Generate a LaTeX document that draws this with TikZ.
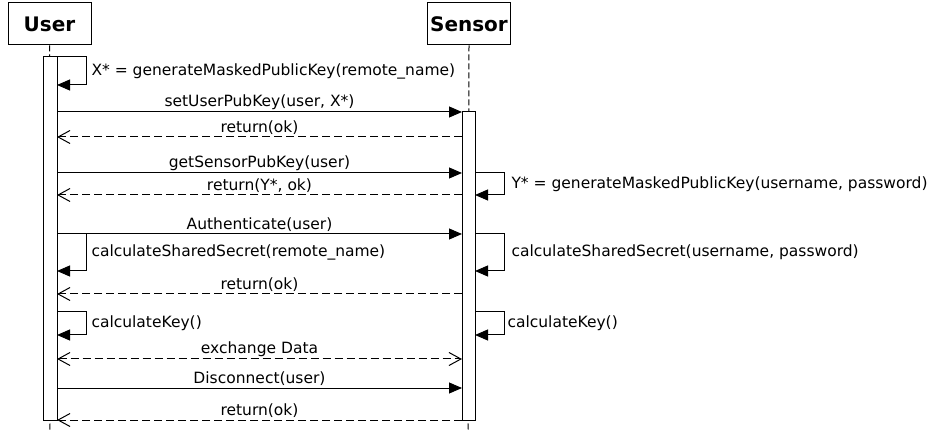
\documentclass[tikz,border=0pt]{standalone}
\usepackage{fontspec}
\setmainfont{DejaVu Sans}
\usetikzlibrary{arrows.meta}

\tikzset{
  actor/.style={draw, line width=1pt, minimum width=83pt, minimum height=42pt, inner sep=0pt,
    font=\bfseries\fontsize{20}{24}\selectfont},
  lifeline/.style={line width=1pt, dash pattern=on 6pt off 3pt},
  activation/.style={draw, line width=1pt, fill=white},
  call/.style={line width=1pt, -{Triangle[length=13pt,width=11pt]}},
  reply/.style={line width=1pt, dash pattern=on 8pt off 4pt, -{Straight Barb[length=12pt,width=13pt]}},
  both/.style={line width=1pt, dash pattern=on 8pt off 4pt, {Straight Barb[length=12pt,width=13pt]}-{Straight Barb[length=12pt,width=13pt]}},
  lbl/.style={above, inner sep=2pt},
  selflbl/.style={right, inner sep=5pt}
}

\begin{document}
\begin{tikzpicture}[x=1pt, y=-1pt, font=\fontsize{15.5}{18}\selectfont]
  \useasboundingbox (0,0) rectangle (934,435);

  % objects
  \node[actor] (user) at (49.5,24) {User};
  \node[actor] (sensor) at (469,24) {Sensor};
  \coordinate (userend) at (50,432);
  \coordinate (sensorend) at (468,432);
  \draw[lifeline] (user.south) -- (userend);
  \draw[lifeline] (sensor.south) -- (sensorend);

  % activation bars
  \draw[activation] (43,57) rectangle (57,420);
  \draw[activation] (462,112) rectangle (475,420);

  % message ends
  \foreach \n/\y in {a/112, b/137, c/173, d/195, e/234, f/294, g/359, h/388, i/420} {
    \coordinate (u\n) at (57,\y);
    \coordinate (s\n) at (462,\y);
  }
  % self calls
  \foreach \n/\t/\b in {1/57/85, 2/234/271, 3/312/335} {
    \coordinate (ut\n) at (57,\t);
    \coordinate (ub\n) at (57,\b);
  }
  \foreach \n/\t/\b in {1/173/195, 2/234/271, 3/312/335} {
    \coordinate (st\n) at (475,\t);
    \coordinate (sb\n) at (475,\b);
  }

  \draw[call] (ut1) -- ++(29,0) |- node[selflbl, pos=0.25] {X* = generateMaskedPublicKey(remote\_name)} (ub1);
  \draw[call] (ua) -- node[lbl] {setUserPubKey(user, X*)} (sa);
  \draw[reply] (sb) -- node[lbl] {return(ok)} (ub);
  \draw[call] (uc) -- node[lbl] {getSensorPubKey(user)} (sc);
  \draw[call] (st1) -- ++(29,0) |- node[selflbl, pos=0.25, inner sep=7pt] {Y* = generateMaskedPublicKey(username, password)} (sb1);
  \draw[reply] (sd) -- node[lbl] {return(Y*, ok)} (ud);
  \draw[call] (ue) -- node[lbl] {Authenticate(user)} (se);
  \draw[call] (ut2) -- ++(29,0) |- node[selflbl, pos=0.25] {calculateSharedSecret(remote\_name)} (ub2);
  \draw[call] (st2) -- ++(29,0) |- node[selflbl, pos=0.25, inner sep=7pt] {calculateSharedSecret(username, password)} (sb2);
  \draw[reply] (sf) -- node[lbl] {return(ok)} (uf);
  \draw[call] (ut3) -- ++(29,0) |- node[selflbl, pos=0.25] {calculateKey()} (ub3);
  \draw[call] (st3) -- ++(29,0) |- node[selflbl, pos=0.25, inner sep=3pt] {calculateKey()} (sb3);
  \draw[both] (ug) -- node[lbl] {exchange Data} (sg);
  \draw[call] (uh) -- node[lbl] {Disconnect(user)} (sh);
  \draw[reply] (si) -- node[lbl] {return(ok)} (ui);
\end{tikzpicture}
\end{document}
